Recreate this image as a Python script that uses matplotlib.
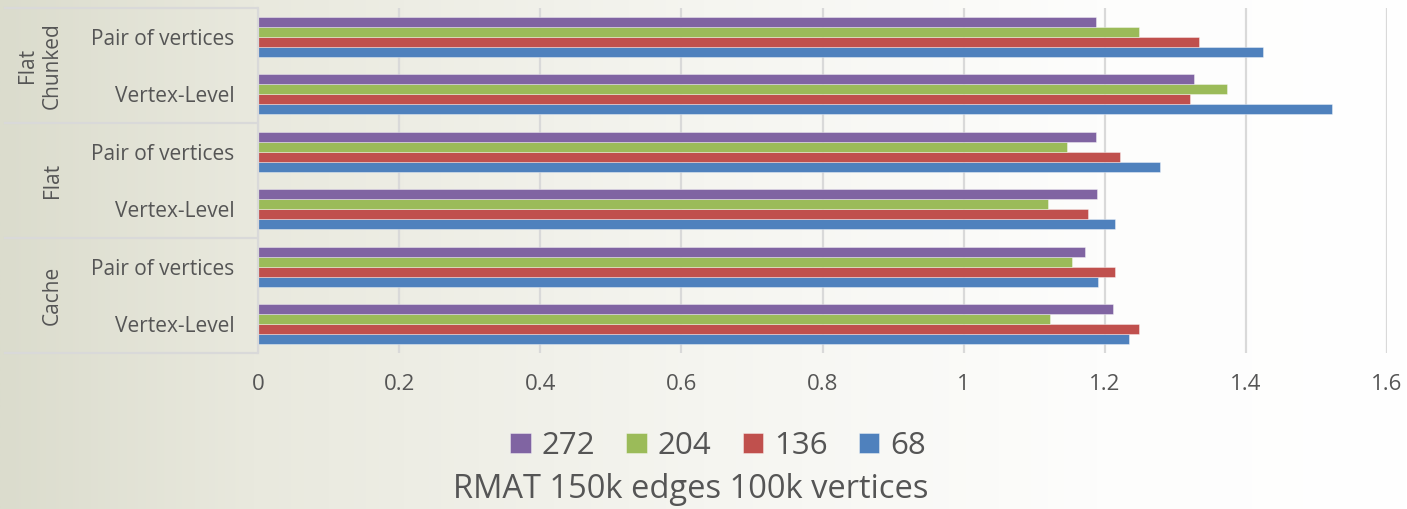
import numpy as np
import matplotlib
matplotlib.use("Agg")
import matplotlib.pyplot as plt
from matplotlib.transforms import blended_transform_factory

# ---- data -----------------------------------------------------------------
groups = ["Cache", "Flat", "Flat\nChunked"]          # bottom to top
categories = ["Vertex-Level", "Pair of vertices",
              "Vertex-Level", "Pair of vertices",
              "Vertex-Level", "Pair of vertices"]     # bottom to top
series_names = ["68", "136", "204", "272"]

vals_68 = [1.234, 1.190, 1.214, 1.278, 1.522, 1.424]
vals_136 = [1.248, 1.214, 1.176, 1.222, 1.321, 1.333]
vals_204 = [1.122, 1.154, 1.119, 1.146, 1.373, 1.249]
vals_272 = [1.211, 1.172, 1.189, 1.188, 1.327, 1.188]

series_vals = [vals_68, vals_136, vals_204, vals_272]
series_colors = ["#4F81BD", "#C0504D", "#9BBB59", "#8064A2"]

title = "RMAT 150k edges 100k vertices"
xticks = [0, 0.2, 0.4, 0.6, 0.8, 1.0, 1.2, 1.4, 1.6]
xtick_labels = ["0", "0.2", "0.4", "0.6", "0.8", "1", "1.2", "1.4", "1.6"]

# ---- styling ----------------------------------------------------------------
plt.rcParams["font.family"] = ["Open Sans", "DejaVu Sans"]
TEXT = "#555555"
GRID = "#d9d9d9"

W, H = 1407, 509
fig = plt.figure(figsize=(W / 100, H / 100), dpi=100)

# soft horizontal background wash, beige on the left fading to white
bg = fig.add_axes([0, 0, 1, 1], zorder=-10)
xs = np.linspace(0, 1, 600)
stops_x = [0.0, 0.18, 0.50, 0.78, 1.0]
stops_c = np.array([[219, 220, 205], [233, 233, 222], [245, 245, 240],
                    [253, 253, 252], [255, 255, 255]]) / 255.0
grad = np.stack([np.interp(xs, stops_x, stops_c[:, k]) for k in range(3)], axis=-1)
bg.imshow(grad[np.newaxis, :, :], aspect="auto", extent=[0, 1, 0, 1])
bg.set_axis_off()

ax = fig.add_axes([258 / W, 1 - 353 / H, (1387 - 258) / W, (353 - 8) / H])
ax.set_facecolor("none")

y = np.arange(len(categories))
h = 0.174
offsets = [-1.5 * h, -0.5 * h, 0.5 * h, 1.5 * h]
containers = []
for vals, col, off, name in zip(series_vals, series_colors, offsets, series_names):
    c = ax.barh(y + off, vals, height=h, color=col, label=name,
                edgecolor=(1, 1, 1, 0.45), linewidth=0.6, zorder=3)
    containers.append(c)

ax.set_xlim(0, 1.6)
ax.set_ylim(-0.5, len(categories) - 0.5)
ax.set_xticks(xticks)
ax.set_xticklabels(xtick_labels)
ax.set_yticks(y)
ax.set_yticklabels(categories)
ax.tick_params(axis="x", length=0, pad=15, labelsize=16, colors=TEXT)
ax.tick_params(axis="y", length=0, pad=17, labelsize=15, colors=TEXT)
ax.xaxis.grid(True, color=GRID, linewidth=1.6, zorder=0)
ax.set_axisbelow(True)
for s in ["top", "right", "bottom"]:
    ax.spines[s].set_visible(False)
ax.spines["left"].set_color(GRID)
ax.spines["left"].set_linewidth(1.6)
ax.spines["left"].set_zorder(4)

# group separators and labels of the two-level category axis
tr = blended_transform_factory(fig.transFigure, ax.transData)
for yb in [-0.5, 1.5, 3.5, 5.5]:
    ax.plot([5 / W, 257 / W], [yb, yb], transform=tr, color=GRID,
            linewidth=1.6, clip_on=False, zorder=2)
for gi, g in enumerate(groups):
    ax.text(63 / W, 2 * gi + 0.5, g, transform=tr, rotation=90,
            ha="right", va="center", multialignment="center",
            fontsize=15, color=TEXT, linespacing=1.25)

# legend in reverse series order, then the title below it
handles = containers[::-1]
fig.legend(handles, [c.get_label() for c in handles], loc="center",
           bbox_to_anchor=(718 / W, 1 - 446 / H), ncol=4, frameon=False,
           fontsize=22.5, handlelength=0.65, handleheight=0.65,
           handletextpad=0.35, columnspacing=1.0, borderpad=0,
           labelcolor=TEXT)
fig.text(691 / W, 1 - 489 / H, title, ha="center", va="center",
         fontsize=23.5, color=TEXT)

fig.savefig("out.png", dpi=100)
